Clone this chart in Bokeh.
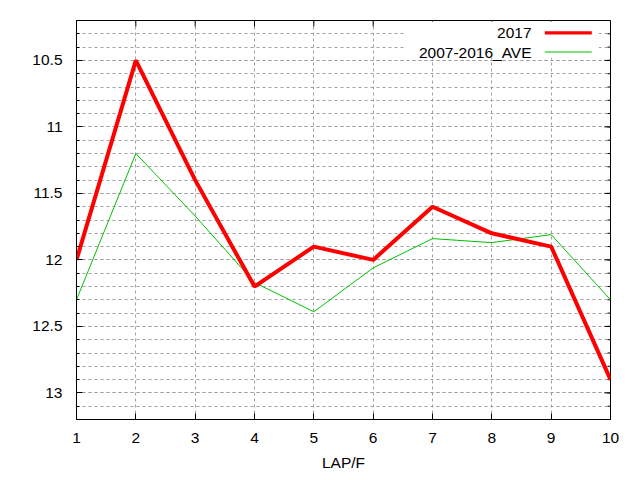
from bokeh.plotting import figure
from bokeh.models import (Range1d, FixedTicker, LinearAxis, Label, BoxAnnotation)
from bokeh.embed import file_html
from bokeh.resources import INLINE

# ---- data ----
laps = [1, 2, 3, 4, 5, 6, 7, 8, 9, 10]
y2017 = [12.0, 10.5, 11.4, 12.2, 11.9, 12.0, 11.6, 11.8, 11.9, 12.9]
y_ave = [12.3, 11.2, 11.67, 12.17, 12.39, 12.06, 11.84, 11.87, 11.81, 12.3]
series_names = ["2017", "2007-2016_AVE"]
y_ticks = [10.5, 11.0, 11.5, 12.0, 12.5, 13.0]
y_tick_labels = ["10.5", "11", "11.5", "12", "12.5", "13"]
y_minor = [round(10.3 + 0.1 * i, 1) for i in range(29)]
x_ticks = laps
x_label = "LAP/F"

FONT = "Liberation Sans"
FS = "15.5px"
GRID = "#a0a0a0"
RED = "#ff0000"
GREEN = "#00c000"

X0, X1 = 1, 10
Y_BOTTOM, Y_TOP = 13.2, 10.2
FRAME_W, FRAME_H = 534, 399

p = figure(width=640, height=480, output_backend="svg", toolbar_location=None,
           x_range=Range1d(X0, X1), y_range=Range1d(Y_BOTTOM, Y_TOP),
           min_border_left=76, min_border_right=640 - 76 - FRAME_W,
           min_border_top=20, min_border_bottom=480 - 20 - FRAME_H,
           x_axis_location=None, y_axis_location=None)
p.background_fill_color = "white"
p.border_fill_color = "white"
p.outline_line_color = "black"
p.outline_line_width = 1
p.outline_line_alpha = 1

xt = FixedTicker(ticks=x_ticks, minor_ticks=[])
yt = FixedTicker(ticks=y_ticks, minor_ticks=y_minor)

def style_axis(ax):
    ax.axis_line_color = "black"
    ax.major_tick_line_color = "black"
    ax.minor_tick_line_color = "black"
    ax.major_tick_in = 6
    ax.major_tick_out = 0
    ax.minor_tick_in = 3
    ax.minor_tick_out = 0
    ax.major_label_text_font = FONT
    ax.major_label_text_font_size = FS
    ax.major_label_text_color = "#000000"

left = LinearAxis(ticker=yt, major_label_overrides={t: l for t, l in zip(y_ticks, y_tick_labels)})
style_axis(left)
left.major_label_standoff = 14
p.add_layout(left, "left")

bottom = LinearAxis(ticker=xt, axis_label=x_label)
style_axis(bottom)
bottom.major_label_standoff = 13
bottom.axis_label_text_font = FONT
bottom.axis_label_text_font_size = FS
bottom.axis_label_text_font_style = "normal"
bottom.axis_label_text_color = "#000000"
bottom.axis_label_standoff = 8
p.add_layout(bottom, "below")

p.xgrid.ticker = xt
p.ygrid.ticker = yt
for g in (p.xgrid, p.ygrid):
    g.grid_line_color = GRID
    g.grid_line_dash = "3 3"
    g.grid_line_width = 1
p.ygrid.minor_grid_line_color = GRID
p.ygrid.minor_grid_line_dash = "3 3"

# mirrored tick marks on the right and top edges (gnuplot style)
dx_per_px = (X1 - X0) / FRAME_W
dy_per_px = (Y_BOTTOM - Y_TOP) / FRAME_H
p.segment(x0=[X1] * len(y_ticks), y0=y_ticks,
          x1=[X1 - 6 * dx_per_px] * len(y_ticks), y1=y_ticks,
          line_color="black", line_width=1)
p.segment(x0=[X1] * len(y_minor), y0=y_minor,
          x1=[X1 - 3 * dx_per_px] * len(y_minor), y1=y_minor,
          line_color="black", line_width=1)
p.segment(x0=x_ticks, y0=[Y_TOP] * len(x_ticks),
          x1=x_ticks, y1=[Y_TOP + 6 * dy_per_px] * len(x_ticks),
          line_color="black", line_width=1)

p.line(laps, y_ave, line_color=GREEN, line_width=1)
p.line(laps, y2017, line_color=RED, line_width=4)

# ---- key (gnuplot style: text then sample) ----
box = BoxAnnotation(left=6.55, right=9.80, top=10.207, bottom=10.48,
                    fill_color="white", fill_alpha=1.0, line_alpha=0)
p.add_layout(box)
p.add_layout(BoxAnnotation(left=8.893, right=9.685, top=10.28, bottom=10.305,
                           fill_color=RED, fill_alpha=1.0, line_alpha=0))
p.add_layout(BoxAnnotation(left=8.893, right=9.685, top=10.433, bottom=10.441,
                           fill_color=GREEN, fill_alpha=1.0, line_alpha=0))
for name, yy in zip(series_names, [10.293, 10.437]):
    p.add_layout(Label(x=8.669, y=yy, text=name, text_align="right",
                       text_baseline="middle", text_font=FONT,
                       text_font_size=FS, text_color="#000000"))

open("out.html", "w").write(file_html(p, INLINE))
